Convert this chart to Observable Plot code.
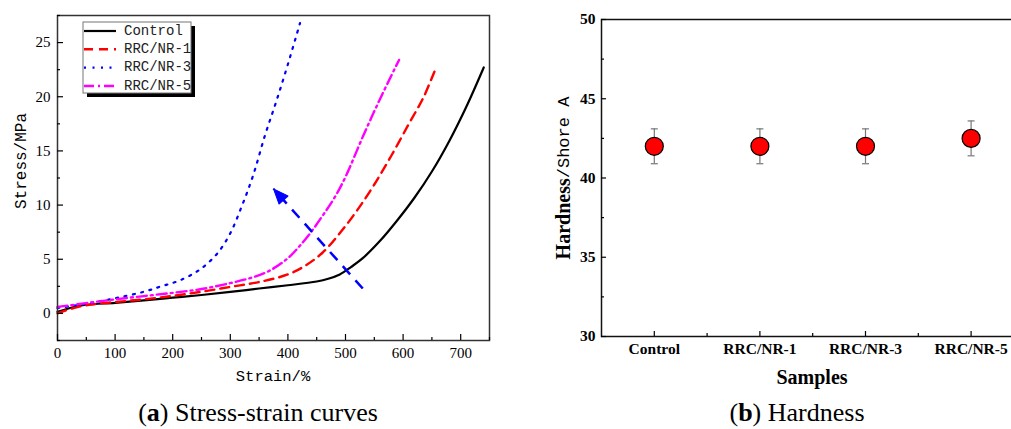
<!DOCTYPE html>
<html>
<head>
<meta charset="utf-8">
<script src="https://cdn.jsdelivr.net/npm/d3@7"></script>
<script src="https://cdn.jsdelivr.net/npm/@observablehq/plot@0.6"></script>
<style>
  html, body { margin: 0; padding: 0; width: 1011px; height: 429px; overflow: hidden; background: #fff; }
  #wrap { position: relative; width: 1011px; height: 429px; overflow: hidden; }
  #left { position: absolute; left: 0; top: 0; width: 500px; }
  #right { position: absolute; left: 520px; top: 0; width: 520px; }
  #left svg, #right svg { max-width: none !important; display: block; }
  .cap { position: absolute; top: 398px; font-family: "Liberation Serif", serif; font-size: 26px; color: #000; white-space: nowrap; transform: translateX(-50%); }
</style>
</head>
<body>
<div id="wrap">
  <div id="left"></div>
  <div id="right"></div>
  <div class="cap" style="left:258px">(<b>a</b>) Stress-strain curves</div>
  <div class="cap" style="left:797px">(<b>b</b>) Hardness</div>
</div>
<script>
// ---------- Data: stress-strain curves ----------
const seriesNames = ["Control", "RRC/NR-1", "RRC/NR-3", "RRC/NR-5"];

const strainControl = [0, 25, 50, 100, 150, 200, 250, 300, 350, 400, 450, 470, 490, 510, 530, 560, 590, 620, 650, 680, 710, 740];
const stressControl = [0.15, 0.55, 0.8, 0.98, 1.2, 1.45, 1.7, 1.98, 2.3, 2.6, 2.95, 3.2, 3.6, 4.3, 5.1, 6.7, 8.6, 10.7, 13.1, 15.9, 19.1, 22.7];

const strainNR1 = [0, 25, 50, 100, 150, 200, 250, 300, 350, 400, 430, 460, 490, 520, 550, 580, 610, 635, 655];
const stressNR1 = [0.0, 0.45, 0.75, 1.05, 1.3, 1.62, 2.0, 2.45, 2.9, 3.6, 4.4, 5.6, 7.4, 9.5, 11.9, 14.6, 17.5, 19.9, 22.4];

const strainNR3 = [0, 50, 100, 150, 180, 210, 240, 260, 280, 300, 320, 340, 360, 380, 400, 421];
const stressNR3 = [0.5, 0.9, 1.4, 2.0, 2.5, 3.0, 3.8, 4.6, 5.7, 7.4, 9.9, 12.8, 16.4, 19.6, 23.0, 26.8];

const strainNR5 = [0, 50, 100, 150, 200, 250, 300, 340, 370, 400, 420, 440, 460, 480, 500, 530, 560, 593];
const stressNR5 = [0.6, 0.95, 1.3, 1.6, 1.9, 2.25, 2.8, 3.35, 4.0, 5.1, 6.2, 7.5, 9.0, 10.6, 12.6, 16.3, 19.8, 23.4];

const arrowStrain = [530, 375];   // start, tip
const arrowStress = [2.3, 11.5];

const strainTicks = [0, 100, 200, 300, 400, 500, 600, 700];
const strainMinor = [50, 150, 250, 350, 450, 550, 650, 750];
const stressTicks = [0, 5, 10, 15, 20, 25];
const stressMinor = [-2.5, 2.5, 7.5, 12.5, 17.5, 22.5, 27.5];

// ---------- Data: hardness ----------
const samples = ["Control", "RRC/NR-1", "RRC/NR-3", "RRC/NR-5"];
const hardness = [42, 42, 42, 42.5];
const hardnessErr = [1.1, 1.1, 1.1, 1.1];
const hardTicks = [30, 35, 40, 45, 50];
const hardMinor = [32.5, 37.5, 42.5, 47.5];
const sampleMinor = [0.5, 1.5, 2.5];

// ---------- Build tables ----------
const colors = { "Control": "#000000", "RRC/NR-1": "#ff0000", "RRC/NR-3": "#0000ff", "RRC/NR-5": "#ff00ff" };
const dashes = { "Control": null, "RRC/NR-1": "9,6", "RRC/NR-3": "2,6.5", "RRC/NR-5": "10,4,2,4" };
const widths = { "Control": 2.2, "RRC/NR-1": 2.4, "RRC/NR-3": 2.2, "RRC/NR-5": 2.4 };
const xs = [strainControl, strainNR1, strainNR3, strainNR5];
const ys = [stressControl, stressNR1, stressNR3, stressNR5];
const curves = seriesNames.map((name, k) => xs[k].map((x, i) => ({ name, strain: x, stress: ys[k][i] })));

// ---------- Left plot ----------
const L = { width: 500, height: 392, mL: 57, mR: 11, mT: 15, mB: 52 };
const xDom = [0, 750], yDom = [-2.5, 27.5];
const xPix = d3.scaleLinear(xDom, [L.mL, L.width - L.mR]);
const yPix = d3.scaleLinear(yDom, [L.height - L.mB, L.mT]);
const adx = xPix(arrowStrain[1]) - xPix(arrowStrain[0]);
const ady = yPix(arrowStress[1]) - yPix(arrowStress[0]);
const arrowAngle = Math.atan2(adx, -ady) * 180 / Math.PI;

const headShape = { draw(ctx, l) { ctx.moveTo(0, -l); ctx.lineTo(-6, 0); ctx.lineTo(6, 0); ctx.closePath(); } };

const curveMarks = curves.map(c => Plot.line(c, {
  x: "strain", y: "stress", stroke: colors[c[0].name], strokeWidth: widths[c[0].name],
  strokeDasharray: dashes[c[0].name], curve: "catmull-rom"
}));

const left = Plot.plot({
  width: L.width, height: L.height,
  marginLeft: L.mL, marginRight: L.mR, marginTop: L.mT, marginBottom: L.mB,
  x: { domain: xDom }, y: { domain: yDom },
  style: { fontFamily: "Liberation Serif", fontSize: "15px", color: "#000", background: "transparent" },
  marks: [
    ...curveMarks,
    Plot.link([0], {
      x1: () => arrowStrain[0], y1: () => arrowStress[0], x2: () => arrowStrain[1], y2: () => arrowStress[1],
      stroke: "#0000ff", strokeWidth: 2.5, strokeDasharray: "11,8"
    }),
    Plot.vector([0], {
      x: () => arrowStrain[1], y: () => arrowStress[1], rotate: arrowAngle, length: 15, anchor: "end",
      shape: headShape, fill: "#0000ff", stroke: "#0000ff", strokeWidth: 1
    }),
    Plot.frame({ stroke: "#333", strokeWidth: 1.5 }),
    Plot.axisX({ ticks: strainTicks, tickSize: -6, tickPadding: 13, label: null, strokeWidth: 1.2 }),
    Plot.axisX({ ticks: strainMinor, tickSize: -3, tickFormat: () => "", label: null, strokeWidth: 1.2 }),
    Plot.axisY({ ticks: stressTicks, tickSize: -6, tickPadding: 13, label: null, strokeWidth: 1.2 }),
    Plot.axisY({ ticks: stressMinor, tickSize: -3, tickFormat: () => "", label: null, strokeWidth: 1.2 })
  ]
});
document.getElementById("left").appendChild(left);

{
  const svg = d3.select(left);
  svg.append("text").attr("transform", "translate(22,161) rotate(-90)")
    .attr("text-anchor", "middle").attr("dominant-baseline", "middle")
    .style("font-family", "Liberation Mono").style("font-size", "16px").attr("fill", "#000")
    .text("Stress/MPa");
  svg.append("text").attr("x", 273).attr("y", 381).attr("text-anchor", "middle")
    .style("font-family", "Liberation Mono").style("font-size", "15.5px").attr("fill", "#000")
    .text("Strain/%");
  // legend
  const g = svg.append("g");
  g.append("rect").attr("x", 87).attr("y", 26).attr("width", 108).attr("height", 71).attr("fill", "#000");
  g.append("rect").attr("x", 83).attr("y", 22).attr("width", 108).attr("height", 71)
    .attr("fill", "#fff").attr("stroke", "#777").attr("stroke-width", 1);
  const rowY = [31, 49.3, 67.7, 86];
  seriesNames.forEach((n, i) => {
    g.append("line").attr("x1", 84).attr("x2", 116).attr("y1", rowY[i]).attr("y2", rowY[i])
      .attr("stroke", colors[n]).attr("stroke-width", widths[n])
      .attr("stroke-dasharray", dashes[n] || null);
    g.append("text").attr("x", 124).attr("y", rowY[i]).attr("dominant-baseline", "middle")
      .attr("text-anchor", "start")
      .style("font-family", "Liberation Mono").style("font-size", "14px").attr("fill", "#222")
      .text(n);
  });
}

// ---------- Right plot ----------
const R = { width: 520, height: 400, mL: 81, mR: 16.6, mT: 19, mB: 64 };
const hardRows = samples.map((s, i) => ({ i, s, h: hardness[i], lo: hardness[i] - hardnessErr[i], hi: hardness[i] + hardnessErr[i] }));
const capShape = { draw(ctx, size) { const r = Math.sqrt(size / Math.PI); ctx.moveTo(-r, 0); ctx.lineTo(r, 0); } };

const right = Plot.plot({
  width: R.width, height: R.height,
  marginLeft: R.mL, marginRight: R.mR, marginTop: R.mT, marginBottom: R.mB,
  x: { domain: [-0.5, samples.length - 0.5] }, y: { domain: [30, 50] },
  style: { fontFamily: "Liberation Serif", fontSize: "15.5px", fontWeight: "bold", color: "#000", background: "transparent" },
  marks: [
    Plot.ruleX(hardRows, { x: "i", y1: "lo", y2: "hi", stroke: "#777", strokeWidth: 1.2 }),
    Plot.dot(hardRows, { x: "i", y: "lo", symbol: capShape, r: 3.5, stroke: "#777", strokeWidth: 1.2 }),
    Plot.dot(hardRows, { x: "i", y: "hi", symbol: capShape, r: 3.5, stroke: "#777", strokeWidth: 1.2 }),
    Plot.dot(hardRows, { x: "i", y: "h", r: 9, fill: "#ff0000", stroke: "#000", strokeWidth: 1.2 }),
    Plot.frame({ stroke: "#111", strokeWidth: 1.5 }),
    Plot.axisX({ ticks: samples.map((s, i) => i), tickFormat: i => samples[i], tickSize: -5, tickPadding: 11, label: null, strokeWidth: 1.2 }),
    Plot.axisX({ ticks: sampleMinor, tickFormat: () => "", tickSize: -3, label: null, strokeWidth: 1.2 }),
    Plot.axisY({ ticks: hardTicks, tickSize: -5, tickPadding: 11, label: null, strokeWidth: 1.2 }),
    Plot.axisY({ ticks: hardMinor, tickFormat: () => "", tickSize: -3, label: null, strokeWidth: 1.2 })
  ]
});
document.getElementById("right").appendChild(right);

{
  const svg = d3.select(right);
  const t = svg.append("text").attr("transform", "translate(45,178) rotate(-90)")
    .attr("text-anchor", "middle").attr("dominant-baseline", "middle").attr("fill", "#000");
  t.append("tspan").style("font-family", "Liberation Serif").style("font-weight", "bold").style("font-size", "20px").text("Hardness");
  t.append("tspan").style("font-family", "Liberation Mono").style("font-weight", "normal").style("font-size", "17px").text("/Shore A");
  svg.append("text").attr("x", 292).attr("y", 384).attr("text-anchor", "middle")
    .style("font-family", "Liberation Serif").style("font-weight", "bold").style("font-size", "20px").attr("fill", "#000")
    .text("Samples");
}
</script>
</body>
</html>
